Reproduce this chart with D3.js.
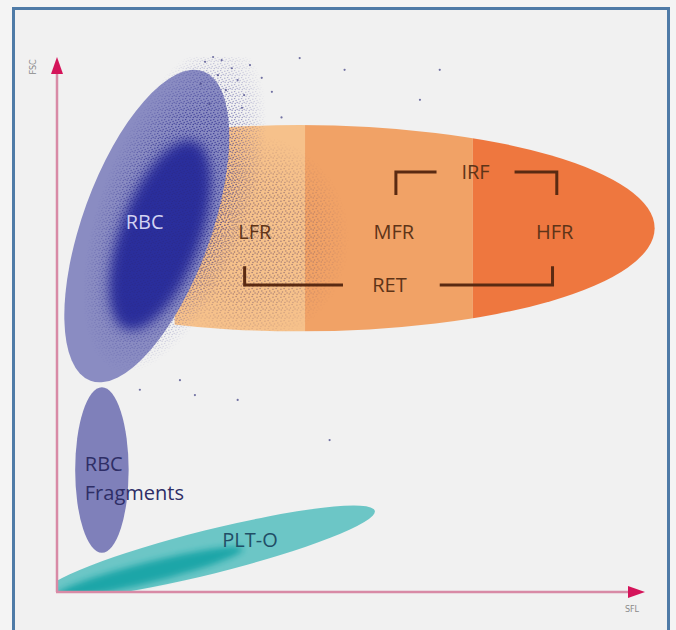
<!DOCTYPE html>
<html><head><meta charset="utf-8">
<script src="https://cdn.jsdelivr.net/npm/d3@7/dist/d3.min.js"></script>
<style>html,body{margin:0;padding:0;background:#f3f3f3;}svg{display:block;}</style>
</head><body>
<svg id="chart" width="676" height="630"></svg>
<script>
// ---- Data (SFL on x, FSC on y, arbitrary units) ----
const axisLabels = {x: "SFL", y: "FSC"};
// populations: name, cx, cy, rx, ry, angle(deg)
const populations = [
  {name: "RBC",            cx: 16.8, cy: 68.4, rx: 12.0, ry: 30.8, angle: 20},
  {name: "RBC Fragments",  cx: 8.4,  cy: 22.8, rx: 5.0,  ry: 15.5, angle: 0},
  {name: "PLT-O",          cx: 28.6, cy: 7.5,  rx: 31.8, ry: 4.1,  angle: -14}
];
const rbcCore = {cx: 19.3, cy: 66.7, rx: 7.5, ry: 18.7, angle: 20};
const pltCore = {cx: 17.3, cy: 3.7, rx: 18.0, ry: 1.9, angle: -14};
// reticulocyte gate (ellipse) and its fluorescence bands
const retGate = {cx: 45.4, cy: 68.0, rx: 66.4, ry: 19.3, left: 22};
const bandNames = ["LFR", "MFR", "HFR"];
const bandEdges = [22, 46.4, 77.8, 112];
const bandColors = ["#f6c18b", "#f1a266", "#ee773f"];
const bandLabelX = [37.0, 63.0, 93.1];
const bandLabelY = 67.3;
// brackets
const irfBracket = {y: 78.5, drop: 74.2, x: [63.4, 71.0, 85.6, 93.5], label: "IRF", lx: 78.3};
const retBracket = {y: 57.4, rise: 60.9, x: [35.1, 53.5, 71.6, 92.7], label: "RET", lx: 62.2};
// population labels
const popLabels = [
  {text: "RBC", x: 16.4, y: 69.2, anchor: "middle", color: "#d2d2f2"},
  {text: "RBC", x: 5.2, y: 23.9, anchor: "start", color: "#2e2e66"},
  {text: "Fragments", x: 5.2, y: 18.6, anchor: "start", color: "#2e2e66"},
  {text: "PLT-O", x: 36.1, y: 9.8, anchor: "middle", color: "#214e66"}
];
// stray events
const strayX = [27.7, 29.2, 30.8, 32.7, 33.8, 35.0, 31.6, 30.1, 36.1, 38.3, 45.4, 53.8, 67.9, 23.0, 25.8, 33.8, 51.0, 71.6, 15.5, 34.6, 40.2, 28.5, 26.9, 42.0];
const strayY = [99.1, 100, 99.4, 97.9, 95.7, 92.9, 93.8, 96.6, 98.5, 96.1, 99.8, 97.6, 92.0, 39.6, 36.8, 35.9, 28.4, 97.6, 37.8, 90.5, 93.5, 91.2, 95.0, 88.7];

// ---- Drawing ----
const svg = d3.select("#chart");
const W = 676, H = 630;
const x = d3.scaleLinear().domain([0, 110]).range([57, 645]);
const y = d3.scaleLinear().domain([0, 100]).range([592, 57]);
const k = x(1) - x(0);

svg.append("rect").attr("width", W).attr("height", H).attr("fill", "#f4f4f4");
svg.append("rect").attr("x", 13.5).attr("y", 8.5).attr("width", 655).attr("height", 640)
  .attr("fill", "#f1f1f1").attr("stroke", "#4f7ba7").attr("stroke-width", 3);

const defs = svg.append("defs");
defs.append("clipPath").attr("id", "plotClip").append("rect")
  .attr("x", x(0)).attr("y", y(100) - 20).attr("width", 660 - x(0)).attr("height", y(0) - y(100) + 20);
const retClip = defs.append("clipPath").attr("id", "retClip");
retClip.append("ellipse").attr("cx", x(retGate.cx)).attr("cy", y(retGate.cy))
  .attr("rx", retGate.rx * k).attr("ry", retGate.ry * k);
defs.append("filter").attr("id", "blur5").attr("x", "-50%").attr("y", "-50%").attr("width", "200%").attr("height", "200%")
  .append("feGaussianBlur").attr("stdDeviation", 6);
defs.append("filter").attr("id", "blur2").attr("x", "-50%").attr("y", "-50%").attr("width", "200%").attr("height", "200%")
  .append("feGaussianBlur").attr("stdDeviation", 3);

function stipple(id, color, size) {
  const p = defs.append("pattern").attr("id", id).attr("patternUnits", "userSpaceOnUse")
    .attr("width", size).attr("height", size);
  [[0.8,1.2],[3.6,0.4],[2.2,3.4],[5.1,2.6],[1.1,5.2],[4.3,5.6],[6.2,4.4]].forEach(([a,b]) =>
    p.append("circle").attr("cx", a * size / 7).attr("cy", b * size / 7).attr("r", 0.75).attr("fill", color));
}
stipple("dotsBlue", "#2a2a8c", 7);
stipple("dotsBrown", "#7a5a6a", 8);
function radialMask(id) {
  const g = defs.append("radialGradient").attr("id", id + "G");
  g.append("stop").attr("offset", "0%").attr("stop-color", "#fff").attr("stop-opacity", 1);
  g.append("stop").attr("offset", "55%").attr("stop-color", "#fff").attr("stop-opacity", 0.8);
  g.append("stop").attr("offset", "100%").attr("stop-color", "#fff").attr("stop-opacity", 0);
  return g;
}
radialMask("mBlue"); radialMask("mBrown");

const plot = svg.append("g").attr("clip-path", "url(#plotClip)");

function ellipse(sel, e) {
  return sel.append("ellipse").attr("cx", x(e.cx)).attr("cy", y(e.cy))
    .attr("rx", e.rx * k).attr("ry", e.ry * k)
    .attr("transform", `rotate(${e.angle || 0},${x(e.cx)},${y(e.cy)})`);
}

// reticulocyte bands
const retG = plot.append("g").attr("clip-path", "url(#retClip)");
retG.selectAll("rect").data(bandNames).join("rect")
  .attr("x", (d, i) => x(bandEdges[i]))
  .attr("width", (d, i) => x(bandEdges[i + 1]) - x(bandEdges[i]))
  .attr("y", y(retGate.cy + retGate.ry + 1)).attr("height", 2 * (retGate.ry + 1) * k)
  .attr("fill", (d, i) => bandColors[i]);

// brownish stippled spread into LFR / MFR
const mB = defs.append("mask").attr("id", "maskBrown");
mB.append("ellipse").attr("cx", x(36)).attr("cy", y(66)).attr("rx", 100).attr("ry", 105).attr("fill", "url(#mBrownG)");
retG.append("rect").attr("x", x(20)).attr("y", y(90)).attr("width", 260).attr("height", 260)
  .attr("fill", "url(#dotsBrown)").attr("mask", "url(#maskBrown)").attr("opacity", 0.8);

// RBC
const rbc = populations[0];
ellipse(plot, rbc).attr("fill", "#8a8cc2");
ellipse(plot, rbcCore).attr("fill", "#2c2e9c").attr("filter", "url(#blur5)");
const mBl = defs.append("mask").attr("id", "maskBlue");
mBl.append("ellipse").attr("cx", x(22)).attr("cy", y(72)).attr("rx", 75).attr("ry", 175)
  .attr("transform", `rotate(20,${x(22)},${y(72)})`).attr("fill", "url(#mBlueG)");
plot.append("rect").attr("x", x(5)).attr("y", y(100)).attr("width", 220).attr("height", 340)
  .attr("fill", "url(#dotsBlue)").attr("mask", "url(#maskBlue)").attr("opacity", 0.9);

// RBC fragments
ellipse(plot, populations[1]).attr("fill", "#7f80ba");

// PLT-O
ellipse(plot, populations[2]).attr("fill", "#6cc6c6");
ellipse(plot, pltCore).attr("fill", "#1ea6a8").attr("filter", "url(#blur2)");

// stray events
plot.selectAll("circle.stray").data(strayX).join("circle").attr("class", "stray")
  .attr("cx", d => x(d)).attr("cy", (d, i) => y(strayY[i])).attr("r", 1.1)
  .attr("fill", "#3a3a80").attr("opacity", 0.7);

// brackets
const bc = "#5a2a12";
function bracket(b, dir) {
  const yy = y(b.y), y2 = y(dir === "down" ? b.drop : b.rise);
  plot.append("path").attr("fill", "none").attr("stroke", bc).attr("stroke-width", 3)
    .attr("d", `M${x(b.x[0])},${y2}V${yy}H${x(b.x[1])}`);
  plot.append("path").attr("fill", "none").attr("stroke", bc).attr("stroke-width", 3)
    .attr("d", `M${x(b.x[2])},${yy}H${x(b.x[3])}V${y2}`);
  plot.append("text").attr("x", x(b.lx)).attr("y", yy).attr("dy", "0.36em")
    .attr("text-anchor", "middle").attr("font-family", "Open Sans").attr("font-size", 20)
    .attr("fill", "#5e3418").text(b.label);
}
bracket(irfBracket, "down");
bracket(retBracket, "up");

// band labels
plot.selectAll("text.band").data(bandNames).join("text").attr("class", "band")
  .attr("x", (d, i) => x(bandLabelX[i])).attr("y", y(bandLabelY)).attr("dy", "0.36em")
  .attr("text-anchor", "middle").attr("font-family", "Open Sans").attr("font-size", 20)
  .attr("fill", "#5e3418").text(d => d);

// population labels
plot.selectAll("text.pop").data(popLabels).join("text").attr("class", "pop")
  .attr("x", d => x(d.x)).attr("y", d => y(d.y)).attr("dy", "0.36em")
  .attr("text-anchor", d => d.anchor).attr("font-family", "Open Sans").attr("font-size", 20)
  .attr("fill", d => d.color).text(d => d.text);

// axes
const axC = "#d88aa6", arC = "#d4145a";
svg.append("line").attr("x1", x(0)).attr("y1", y(0)).attr("x2", x(0)).attr("y2", y(100) + 14)
  .attr("stroke", axC).attr("stroke-width", 2.5);
svg.append("line").attr("x1", x(0) - 1).attr("y1", y(0)).attr("x2", x(110) - 14).attr("y2", y(0))
  .attr("stroke", axC).attr("stroke-width", 2.5);
svg.append("path").attr("fill", arC)
  .attr("d", `M${x(0)},${y(100)}L${x(0) - 6},${y(100) + 17}L${x(0) + 6},${y(100) + 17}Z`);
svg.append("path").attr("fill", arC)
  .attr("d", `M${x(110)},${y(0)}L${x(110) - 17},${y(0) - 6}L${x(110) - 17},${y(0) + 6}Z`);
svg.append("text").attr("x", x(110) - 13).attr("y", y(0) + 20).attr("text-anchor", "middle")
  .attr("font-family", "DejaVu Sans").attr("font-size", 8).attr("fill", "#8a8a8a").text(axisLabels.x);
svg.append("text").attr("transform", `translate(${x(0) - 21},${y(100) + 10}) rotate(-90)`)
  .attr("text-anchor", "middle").attr("font-family", "DejaVu Sans").attr("font-size", 8)
  .attr("fill", "#8a8a8a").text(axisLabels.y);
</script>
</body></html>
